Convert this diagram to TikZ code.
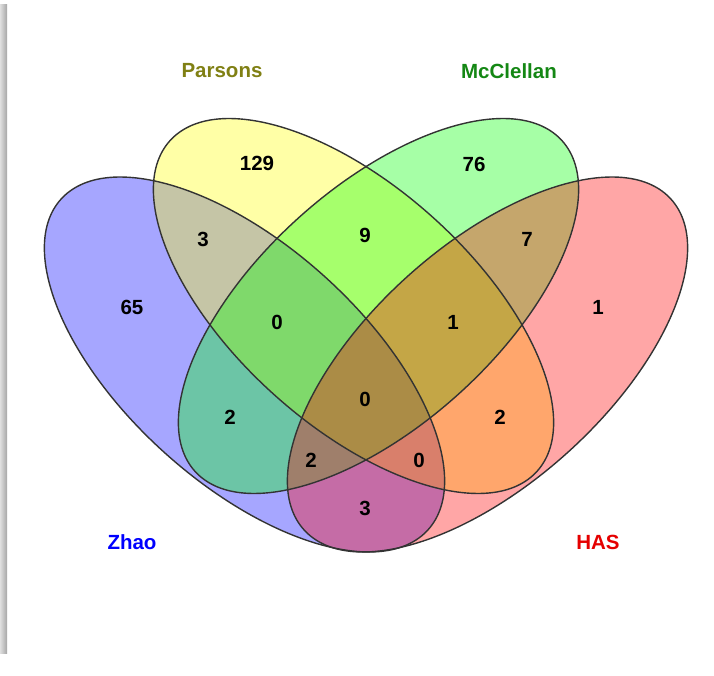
\documentclass[tikz,border=0pt]{standalone}
\usepackage{fontspec}
\setmainfont{Liberation Sans}
\definecolor{zhaoc}{RGB}{0,0,255}
\definecolor{parsc}{RGB}{255,255,0}
\definecolor{mccc}{RGB}{0,255,0}
\definecolor{hasc}{RGB}{255,0,0}
\definecolor{parstext}{RGB}{128,128,20}
\definecolor{mcctext}{RGB}{20,135,20}
\newcommand{\vset}[3]{(#1,#2) ellipse [x radius=247, y radius=119, rotate=#3]}

\begin{document}
\begin{tikzpicture}[x=1pt,y=1pt,
    every node/.style={font=\fontsize{20.5}{24}\selectfont\bfseries},
    setfill/.style={fill=#1,fill opacity=0.35,draw=none},
    setline/.style={draw=black!80,line width=1.4pt},
    setname/.style={text=#1}]
    \useasboundingbox (0,0) rectangle (714,675);
    \shade[left color=gray!25,right color=gray!70] (0,22) rectangle (7,670);
    % fills, in drawing order
    \fill[setfill=zhaoc] \vset{244.5}{310.5}{-42};
    \fill[setfill=parsc] \vset{353.5}{369}{-42};
    \fill[setfill=mccc] \vset{378.5}{369}{42};
    \fill[setfill=hasc] \vset{487.5}{310.5}{42};
    % outlines
    \draw[setline] \vset{244.5}{310.5}{-42};
    \draw[setline] \vset{353.5}{369}{-42};
    \draw[setline] \vset{378.5}{369}{42};
    \draw[setline] \vset{487.5}{310.5}{42};
    % counts
    \foreach \nm/\px/\py/\v in {p/257/512/129, m/474/511/76, zp/203/436/3,
        pm/365/440/9, mh/527/436/7, z/132/368/65, h/598/368/1,
        zpm/277/353/0, pmh/453/353/1, all/365/276/0, zm/230/258/2,
        ph/500/258/2, zph/311/215/2, zmh/419/215/0, zh/365/167/3}
      \node (n\nm) at (\px,\py) {\v};
    % set names
    \node[setname=parstext] (parsons) at (222,604) {Parsons};
    \node[setname=mcctext] (mcclellan) at (509,604) {McClellan};
    \node[setname=zhaoc] (zhao) at (132,133) {Zhao};
    \node[setname=red!90!black] (has) at (598,133) {HAS};
\end{tikzpicture}
\end{document}
